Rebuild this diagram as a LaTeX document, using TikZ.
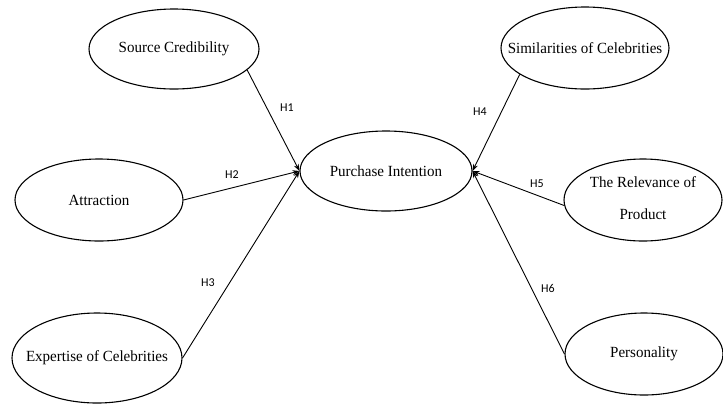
\documentclass[tikz,border=0pt]{standalone}
\usepackage{fontspec}
\setmainfont{Liberation Serif}
\newfontfamily\narrowserif[FakeStretch=0.97]{Liberation Serif}
\newfontfamily\labelfont{Carlito}
\usetikzlibrary{shapes.geometric,arrows.meta}
% zero-width box so the ellipse keeps its fixed size
\newcommand{\fixedtext}[1]{\makebox[0pt]{#1}}
\begin{document}
\begin{tikzpicture}[x=1pt,y=-1pt,
  construct/.style={ellipse,draw,line width=1.1pt,inner sep=0pt,
    font=\narrowserif\fontsize{15.5}{18}\selectfont},
  path/.style={line width=0.9pt,-{Stealth[length=7pt,width=5pt]}},
  hyp/.style={font=\labelfont\fontsize{12}{14}\selectfont,inner sep=0pt}]
\useasboundingbox (0,0) rectangle (723,405);
% constructs
\node[construct,minimum width=172pt,minimum height=80pt] (pi) at (386,171) {\fixedtext{Purchase Intention}};
\node[construct,minimum width=170pt,minimum height=80pt] (sc) at (174,49) {\fixedtext{Source Credibility}};
\node[construct,minimum width=168pt,minimum height=82pt] (at) at (99,200) {\fixedtext{Attraction}};
\node[construct,minimum width=170pt,minimum height=90pt] (ex) at (97,358) {\fixedtext{Expertise of Celebrities}};
\node[construct,minimum width=168pt,minimum height=82pt] (si) at (585,48) {\fixedtext{Similarities of Celebrities}};
\node[construct,minimum width=158pt,minimum height=82pt] (re) at (643,200)
  {\fixedtext{\begin{tabular}{@{}c@{}}The Relevance of\\[14pt]Product\end{tabular}}};
\node[construct,minimum width=158pt,minimum height=82pt] (pe) at (644,354) {\fixedtext{Personality}};
% hypothesised paths
\draw[path] (sc.-16) -- (pi.west);
\draw[path] (at.east) -- (pi.west);
\draw[path] (ex.east) -- (pi.west);
\draw[path] (si.202) -- (pi.east);
\draw[path] (re.184) -- (pi.east);
\draw[path] (pe.west) -- (pi.east);
% path labels
\node[hyp] (h1) at (287,108) {H1};
\node[hyp] (h2) at (232,175) {H2};
\node[hyp] (h3) at (208,283) {H3};
\node[hyp] (h4) at (480,112) {H4};
\node[hyp] (h5) at (537,184) {H5};
\node[hyp] (h6) at (548,288) {H6};
\end{tikzpicture}
\end{document}
